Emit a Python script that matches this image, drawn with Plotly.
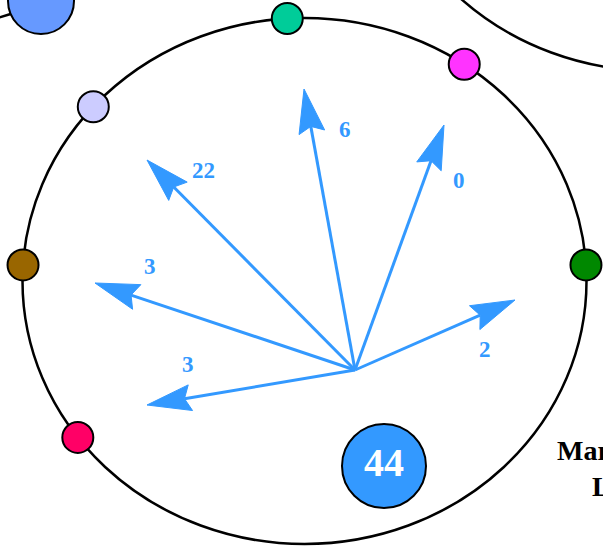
import numpy as np
import plotly.graph_objects as go

W, H = 603, 547

# ---- data ----
node_angles = [93.5, 55.5, 3.5, 176.5, 138.5, 216.5]          # degrees on the ring
node_colors = ["#00CC99", "#FF33FF", "#008800", "#996600", "#CCCCFF", "#FF0066"]

arrow_labels = ["6", "0", "2", "22", "3", "3"]
arrow_dx = [-51, 89, 160, -208, -260, -208]
arrow_dy = [-281, -245, -70, -210, -87, 35]

center_value = "44"
side_text_1 = "Mar"
side_text_2 = "L"

# ---- geometry / style ----
RING = dict(cx=304.5, cy=281, rx=282, ry=263)
RING_TR = dict(cx=655, cy=-192, rx=282, ry=263)
RING_TL = dict(cx=-80, cy=-235, rx=282, ry=263)
ORIGIN = (355, 370)
BLUE = "#3399FF"
HEAD_LEN, HEAD_HALF, NOTCH = 44, 13, 38
LABEL_BACK, LABEL_SIDE = 47, 33

fig = go.Figure()

# rings as shapes
for r in (RING, RING_TR, RING_TL):
    fig.add_shape(type="circle", xref="x", yref="y",
                  x0=r["cx"] - r["rx"], x1=r["cx"] + r["rx"],
                  y0=r["cy"] - r["ry"], y1=r["cy"] + r["ry"],
                  line=dict(color="black", width=2.5), layer="below")

# arrows
ox, oy = ORIGIN
annotations = []
for lab, dx, dy in zip(arrow_labels, arrow_dx, arrow_dy):
    L = np.hypot(dx, dy)
    ux, uy = dx / L, dy / L
    px, py = -uy, ux
    tx, ty = ox + dx, oy + dy
    nx, ny = tx - NOTCH * ux, ty - NOTCH * uy
    bx, by = tx - HEAD_LEN * ux, ty - HEAD_LEN * uy
    fig.add_trace(go.Scatter(x=[ox, nx], y=[oy, ny], mode="lines",
                             line=dict(color=BLUE, width=3), hoverinfo="skip"))
    fig.add_trace(go.Scatter(
        x=[tx, bx + HEAD_HALF * px, nx, bx - HEAD_HALF * px, tx],
        y=[ty, by + HEAD_HALF * py, ny, by - HEAD_HALF * py, ty],
        mode="lines", fill="toself", fillcolor=BLUE,
        line=dict(color=BLUE, width=1), hoverinfo="skip"))
    lx = tx - LABEL_BACK * ux + LABEL_SIDE * px
    ly = ty - LABEL_BACK * uy + LABEL_SIDE * py
    annotations.append(dict(x=lx, y=ly, xref="x", yref="y", text=f"<b>{lab}</b>",
                            showarrow=False, xanchor="center", yanchor="middle",
                            font=dict(family="Liberation Serif", size=23, color=BLUE)))

# nodes on main ring
t = np.radians(node_angles)
fig.add_trace(go.Scatter(
    x=RING["cx"] + RING["rx"] * np.cos(t),
    y=RING["cy"] - RING["ry"] * np.sin(t),
    mode="markers",
    marker=dict(size=31, color=node_colors, line=dict(color="black", width=2)),
    hoverinfo="skip"))

# neighbouring nodes (partially visible)
fig.add_trace(go.Scatter(x=[41], y=[1], mode="markers",
                         marker=dict(size=66, color="#6699FF", line=dict(color="black", width=2)),
                         hoverinfo="skip"))
fig.add_trace(go.Scatter(x=[447], y=[-14], mode="markers",
                         marker=dict(size=31, color="#FFFFFF", line=dict(color="black", width=2)),
                         hoverinfo="skip", cliponaxis=False))

# centre value bubble
fig.add_trace(go.Scatter(x=[384], y=[466], mode="markers+text",
                         marker=dict(size=84, color=BLUE, line=dict(color="black", width=2)),
                         text=[f"<b>{center_value}</b>"], textposition="middle center",
                         textfont=dict(family="Liberation Serif", size=40, color="white"),
                         hoverinfo="skip"))

annotations.append(dict(x=555, y=450, xref="x", yref="y", text=f"<b>{side_text_1}</b>",
                        showarrow=False, xanchor="left", yanchor="middle",
                        font=dict(family="Liberation Serif", size=28, color="black")))
annotations.append(dict(x=590, y=486, xref="x", yref="y", text=f"<b>{side_text_2}</b>",
                        showarrow=False, xanchor="left", yanchor="middle",
                        font=dict(family="Liberation Serif", size=28, color="black")))

fig.update_layout(
    width=W, height=H, margin=dict(l=0, r=0, t=0, b=0),
    showlegend=False, plot_bgcolor="white", paper_bgcolor="white",
    xaxis=dict(range=[0, W], visible=False, fixedrange=True),
    yaxis=dict(range=[H, 0], visible=False, fixedrange=True),
    annotations=annotations,
)

fig.write_html("out.html", config={"displayModeBar": False},
               post_script="document.body.style.margin='0';document.body.style.overflow='hidden';")
